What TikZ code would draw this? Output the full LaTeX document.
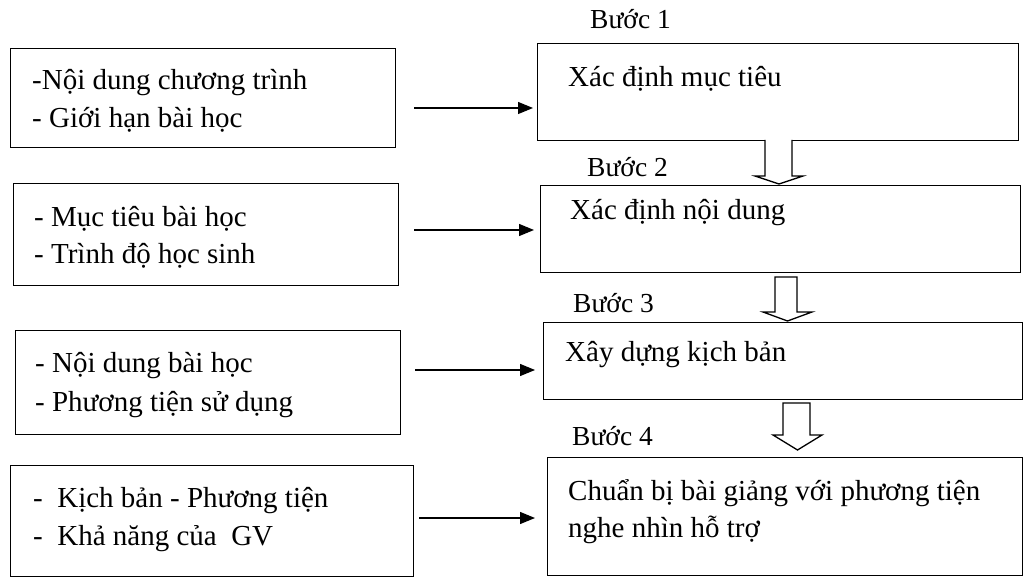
\documentclass[tikz,border=0pt]{standalone}
\usepackage{fontspec}
\setmainfont{Liberation Serif}
\usetikzlibrary{arrows.meta}
\begin{document}
\begin{tikzpicture}[x=1pt,y=-1pt,
  box/.style={draw,line width=1.3pt,anchor=north west,inner sep=0pt},
  txt/.style={anchor=base west,inner sep=0pt,font=\fontsize{29}{37}\selectfont},
  lbl/.style={anchor=base west,inner sep=0pt,font=\fontsize{27.5}{30}\selectfont},
  arr/.style={line width=1.2pt,-{Triangle[length=15pt,width=12pt]}},
  hollow/.style={draw,line width=1.3pt,fill=white,line join=miter}]
\useasboundingbox (0,0) rectangle (1023,577);
% left boxes
\node[box,minimum width=385pt,minimum height=99pt] (L1) at (10,48) {};
\node[box,minimum width=385pt,minimum height=102pt] (L2) at (13,183) {};
\node[box,minimum width=385pt,minimum height=104pt] (L3) at (15,330) {};
\node[box,minimum width=403pt,minimum height=111pt] (L4) at (10,465) {};
% right boxes
\node[box,minimum width=481pt,minimum height=97pt] (R1) at (537,43) {};
\node[box,minimum width=480pt,minimum height=87pt] (R2) at (540,185) {};
\node[box,minimum width=479pt,minimum height=77pt] (R3) at (543,322) {};
\node[box,minimum width=475pt,minimum height=118pt] (R4) at (547,457) {};
% texts left
\node[txt] (t1a) at (32,90) {-Nội dung chương trình};
\node[txt] (t1b) at (32,128) {- Giới hạn bài học};
\node[txt] (t2a) at (34,227) {- Mục tiêu bài học};
\node[txt] (t2b) at (34,264) {- Trình độ học sinh};
\node[txt] (t3a) at (35,373) {- Nội dung bài học};
\node[txt] (t3b) at (35,411) {- Phương tiện sử dụng};
\node[txt] (t4a) at (33,507) {-\ \ Kịch bản - Phương tiện};
\node[txt] (t4b) at (33,545) {-\ \ Khả năng của\ \ GV};
% texts right
\node[txt] (r1) at (568,87) {Xác định mục tiêu};
\node[txt] (r2) at (570,220) {Xác định nội dung};
\node[txt] (r3) at (565,362) {Xây dựng kịch bản};
\node[txt] (r4a) at (568,500) {Chuẩn bị bài giảng với phương tiện};
\node[txt] (r4b) at (568,537) {nghe nhìn hỗ trợ};
% step labels
\node[lbl] (b1) at (590,29) {Bước 1};
\node[lbl] (b2) at (587,177) {Bước 2};
\node[lbl] (b3) at (573,313) {Bước 3};
\node[lbl] (b4) at (572,445) {Bước 4};
% horizontal arrows
\coordinate (a1) at (0,108);
\coordinate (a2) at (0,230);
\coordinate (a3) at (0,370);
\coordinate (a4) at (0,518);
\draw[arr,shorten <=18pt,shorten >=4pt] (L1.east |- a1) -- (R1.west |- a1);
\draw[arr,shorten <=15pt,shorten >=6pt] (L2.east |- a2) -- (R2.west |- a2);
\draw[arr,shorten <=14pt,shorten >=8pt] (L3.east |- a3) -- (R3.west |- a3);
\draw[arr,shorten <=5pt,shorten >=12pt] (L4.east |- a4) -- (R4.west |- a4);
% hollow block arrows
\draw[hollow] (765,140) -- (765,176) -- (755,176) -- (779,184) -- (803,176) -- (792,176) -- (792,140);
\draw[hollow] (775,277) -- (775,312) -- (763,312) -- (787.5,321) -- (812,312) -- (797,312) -- (797,277) -- cycle;
\draw[hollow] (783,403) -- (783,435) -- (773,435) -- (797.5,450) -- (822,435) -- (810,435) -- (810,403) -- cycle;
\end{tikzpicture}
\end{document}
